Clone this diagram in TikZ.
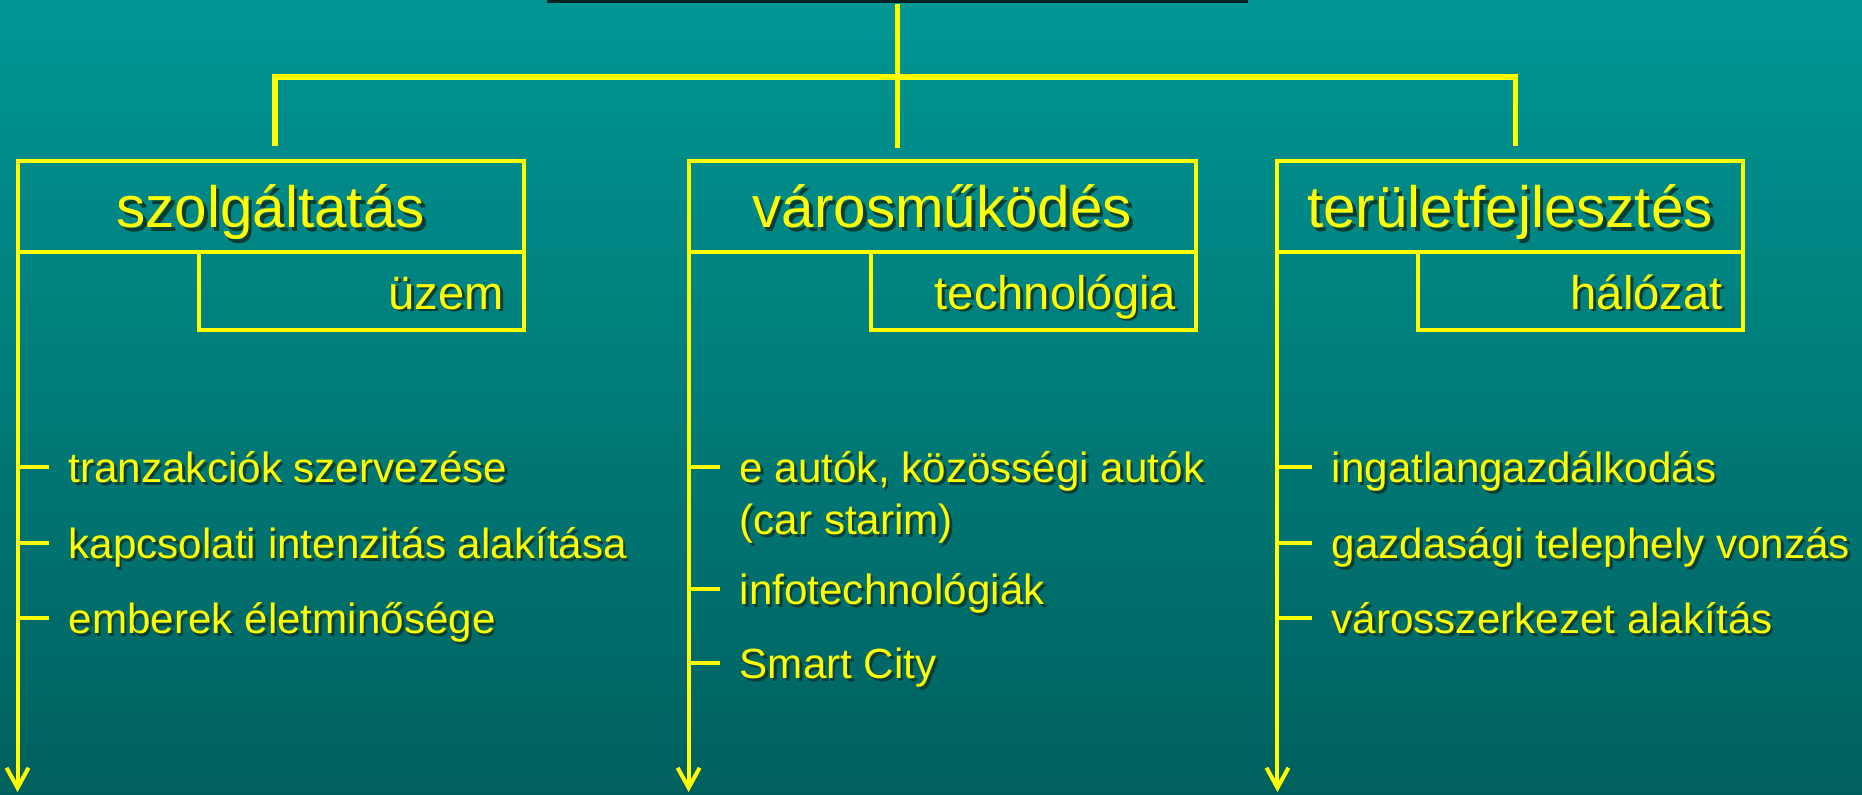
\documentclass[tikz,border=0pt]{standalone}
\usepackage{fontspec}
\setmainfont{Liberation Sans}
\usetikzlibrary{arrows.meta}
\definecolor{yel}{RGB}{255,255,0}
\definecolor{bgtop}{RGB}{0,150,148}
\definecolor{bgbot}{RGB}{0,96,94}
\definecolor{shadowc}{RGB}{10,60,50}
\definecolor{titlec}{RGB}{0,34,34}
\newcommand\shd[1]{\rlap{\kern0.06em\raisebox{-0.06em}{\color{shadowc}#1}}#1}
\tikzset{
  head/.style={draw=yel, line width=1.15pt, text=yel, inner sep=0pt, outer sep=0pt,
    minimum width=#1, minimum height=0.91cm, text height=0.5cm, text depth=0.07cm,
    font=\fontsize{16.6}{20}\selectfont},
  sub/.style={draw=yel, line width=1.15pt, text=yel, inner xsep=0.2cm, inner ysep=0pt,
    outer sep=0pt, minimum width=3.25cm, minimum height=0.78cm, text height=0.42cm,
    text depth=0.06cm, font=\fontsize{13.4}{16}\selectfont, anchor=north east},
  item/.style={text=yel, anchor=west, inner sep=0pt, text height=0.41cm, text depth=0.09cm,
    font=\fontsize{12}{14.4}\selectfont},
  bus/.style={yel, line width=1.7pt},
  tick/.style={yel, line width=1pt},
  arr/.style={yel, line width=1.15pt, -{Straight Barb[length=2mm,width=2.2mm]}}
}
\begin{document}
\begin{tikzpicture}[x=0.01cm,y=-0.01cm]
\clip (0,0) rectangle (1862,795);
\shade[top color=bgtop, bottom color=bgbot] (0,0) rectangle (1862,795);
\node (title) [fill=titlec, minimum width=7.01cm, minimum height=0.6cm, inner sep=0pt, anchor=south] at (897.5,4) {};
% bus
\coordinate (bustop) at (0,77);
\coordinate (busl) at (274.6,146);
\coordinate (busm) at (897.5,148);
\coordinate (busr) at (1515.5,146);
\coordinate (bot) at (0,792);
\draw[bus] (title.south) -- (busm);
\draw[bus] (busl) -- (busl |- bustop) -- (busr |- bustop) -- (busr);
% main boxes
\node (szolg) [head=5.06cm] at (270.7,206.5) {\shd{szolgáltatás}};
\node (varos) [head=5.07cm] at (942.3,206.5) {\shd{városműködés}};
\node (terul) [head=4.65cm] at (1510.1,206.5) {\shd{területfejlesztés}};
\node (uzem) [sub] at (szolg.south east) {\makebox[2.85cm][r]{\shd{üzem}}};
\node (techn) [sub] at (varos.south east) {\makebox[2.85cm][r]{\shd{technológia}}};
\node (halo) [sub] at (terul.south east) {\makebox[2.85cm][r]{\shd{hálózat}}};
\foreach \h in {szolg,varos,terul} {
  \draw[arr] (\h.south west) -- (\h.south west |- bot);
}
% lists
\foreach \n/\x/\y/\t/\h in {
a1/68/467/tranzakciók szervezése/szolg,
a2/68/543/kapcsolati intenzitás alakítása/szolg,
a3/68/618/emberek életminősége/szolg,
b1/739/467/{e autók, közösségi autók}/varos,
b2/739/589/infotechnológiák/varos,
b3/739/663/Smart City/varos,
c1/1331/467/ingatlangazdálkodás/terul,
c2/1331/543/gazdasági telephely vonzás/terul,
c3/1331/618/városszerkezet alakítás/terul} {
  \node (\n) [item] at (\x,\y) {\shd{\t}};
  \draw[tick] (\n.west -| \h.west) -- ([xshift=-0.19cm]\n.west);
}
\node (b1b) [item] at (739,519) {\shd{(car starim)}};
\end{tikzpicture}
\end{document}
